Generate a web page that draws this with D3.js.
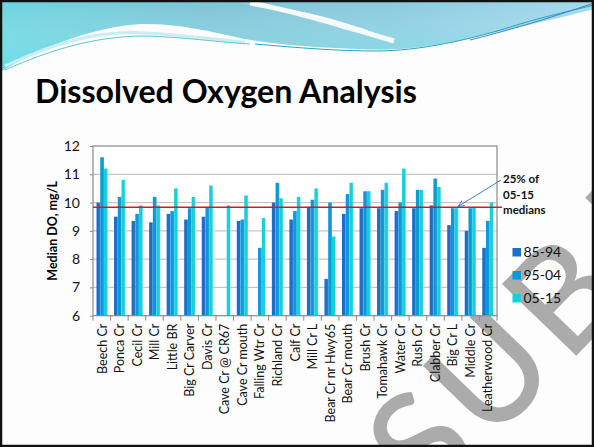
<!DOCTYPE html>
<html>
<head>
<meta charset="utf-8">
<script src="https://cdn.jsdelivr.net/npm/d3@7/dist/d3.min.js"></script>
<style>
html,body{margin:0;padding:0;background:#fff;}
svg{display:block;}
text{font-family:Lato,"Open Sans",sans-serif;}
</style>
</head>
<body>
<div id="chart"></div>
<script>
// ---- data ----
const categories = ["Beech Cr","Ponca Cr","Cecil Cr","Mill Cr","Little BR","Big Cr Carver","Davis Cr",
  "Cave Cr @ CR67","Cave Cr mouth","Falling Wtr Cr","Richland Cr","Calf Cr","Mill Cr L",
  "Bear Cr nr Hwy65","Bear Cr mouth","Brush Cr","Tomahawk Cr","Water Cr","Rush Cr",
  "Clabber Cr","Big Cr L","Middle Cr","Leatherwood Cr"];
const seriesNames = ["85-94","95-04","05-15"];
const s8594 = [10.0, 9.5, 9.35, 9.3, 9.6, 9.4, 9.5, null, 9.35, null, 10.0, 9.4, 9.85, 7.3, 9.6, 9.8, 9.8, 9.7, 9.8, 9.9, 9.2, 9.0, 8.4];
const s9504 = [11.6, 10.2, 9.6, 10.2, 9.7, 9.8, 9.85, null, 9.4, 8.4, 10.7, 9.7, 10.1, 10.0, 10.3, 10.4, 10.45, 10.0, 10.45, 10.85, 9.8, 9.8, 9.35];
const s0515 = [11.2, 10.8, 9.9, 9.9, 10.5, 10.2, 10.6, 9.9, 10.25, 9.45, 10.15, 10.2, 10.5, 8.8, 10.7, 10.4, 10.7, 11.2, 10.45, 10.55, 9.8, 9.85, 10.0];
const yTicks = [6,7,8,9,10,11,12];
const refValue = 9.83;   // 25% of 05-15 medians
const titleText = "Dissolved Oxygen Analysis";
const yTitle = "Median DO, mg/L";
const noteLines = ["25% of","05-15","medians"];
const watermarkText = "SUBJ";

const seriesValues = [s8594, s9504, s0515];
const colors = ["#1d6ec6","#0b9ad9","#18cfda"];
const lighter = ["#4a90dc","#3ab4e6","#6ee3e8"];

const W = 594, H = 447;
const svg = d3.select("#chart").append("svg").attr("width", W).attr("height", H);
const defs = svg.append("defs");

// background
svg.append("rect").attr("width", W).attr("height", H).attr("fill", "#fdfdfd");

// watermark (behind everything else)
svg.append("text").attr("transform","translate(430,506) rotate(-46)")
  .attr("font-size",142).attr("font-weight",400)
  .attr("fill","#ababab").attr("stroke","#ababab").attr("stroke-width",1.5)
  .attr("letter-spacing",8).text(watermarkText);

// header wave
const g1 = defs.append("linearGradient").attr("id","band").attr("x1","0").attr("x2","1").attr("y1","0").attr("y2","0");
[["0%","#68d3df"],["35%","#7cc3d7"],["65%","#86c9de"],["100%","#a3d7ec"]].forEach(s=>g1.append("stop").attr("offset",s[0]).attr("stop-color",s[1]));
const g2 = defs.append("linearGradient").attr("id","bandv").attr("x1","0").attr("x2","0").attr("y1","0").attr("y2","1");
[["0%","#ffffff","0"],["100%","#5fe3ea","0.55"]].forEach(s=>g2.append("stop").attr("offset",s[0]).attr("stop-color",s[1]).attr("stop-opacity",s[2]));
const bandPath = "M0,0 L594,0 L594,9 C560,18 520,27 470,38 C430,47 400,51 360,49 C310,47 275,44 245,39 C205,30 175,23 140,24 C95,27 45,45 0,72 Z";
svg.append("path").attr("d", bandPath).attr("fill","url(#band)");
svg.append("path").attr("d", bandPath).attr("fill","url(#bandv)");
// white swoosh
svg.append("path").attr("d","M240,3 C300,10 350,26 394,41 C350,22 300,8 240,3 Z").attr("fill","#fff");
svg.append("path").attr("d","M250,3 C300,12 345,27 394,41").attr("fill","none").attr("stroke","#fff").attr("stroke-width",5).attr("opacity",0.9);
// thin lines along curve
svg.append("path").attr("d","M5,66 C50,45 95,30 145,33 C185,35 215,40 245,42")
  .attr("fill","none").attr("stroke","#c8eef2").attr("stroke-width",3);
svg.append("path").attr("d","M5,70 C50,50 95,36 145,36 C185,37 215,42 250,44")
  .attr("fill","none").attr("stroke","#3fb0c8").attr("stroke-width",0.8);
svg.append("path").attr("d","M255,44 C300,48 340,51 375,51 C420,51 470,40 520,24 C550,15 575,10 594,5")
  .attr("fill","none").attr("stroke","#2aa6b8").attr("stroke-width",1);
svg.append("path").attr("d","M470,40 C510,30 550,18 594,3")
  .attr("fill","none").attr("stroke","#3c86c8").attr("stroke-width",1);

// title
const title = svg.append("text").attr("x",35).attr("y",103)
  .attr("font-weight","bold").attr("font-size",36).attr("fill","#000").text(titleText);
const tw = title.node().getComputedTextLength();
title.attr("font-size", 36*382/tw);

// scales
const plot = {left:93, right:497, top:146, bottom:315.7};
const x = d3.scaleBand().domain(categories).range([plot.left, plot.right]).paddingInner(0.36).paddingOuter(0.2);
const xs = d3.scaleBand().domain(d3.range(3)).range([0, x.bandwidth()]);
const y = d3.scaleLinear().domain([6,12]).range([plot.bottom, plot.top]);

// plot area
svg.append("rect").attr("x",plot.left).attr("y",plot.top).attr("width",plot.right-plot.left).attr("height",plot.bottom-plot.top).attr("fill","#ffffff");

// gridlines
svg.append("g").selectAll("line").data(yTicks.filter(t=>t>6 && t<12)).join("line")
  .attr("x1",plot.left).attr("x2",plot.right).attr("y1",d=>y(d)).attr("y2",d=>y(d))
  .attr("stroke","#c6c6c6").attr("stroke-width",1.2);

// bar gradients
seriesNames.forEach((s,i)=>{
  const g = defs.append("linearGradient").attr("id","bar"+i).attr("x1","0").attr("x2","1").attr("y1","0").attr("y2","0");
  g.append("stop").attr("offset","0%").attr("stop-color",colors[i]);
  g.append("stop").attr("offset","70%").attr("stop-color",colors[i]);
  g.append("stop").attr("offset","100%").attr("stop-color",lighter[i]);
});

// bars
const barData = [];
categories.forEach((c,ci)=>{
  seriesValues.forEach((arr,si)=>{
    if (arr[ci] != null) barData.push({c, si, v: arr[ci]});
  });
});
svg.append("g").selectAll("rect").data(barData).join("rect")
  .attr("x", d=>x(d.c)+xs(d.si))
  .attr("width", xs.bandwidth())
  .attr("y", d=>y(d.v))
  .attr("height", d=>y(6)-y(d.v))
  .attr("fill", d=>"url(#bar"+d.si+")");

// frame
svg.append("rect").attr("x",plot.left).attr("y",plot.top).attr("width",plot.right-plot.left).attr("height",plot.bottom-plot.top)
  .attr("fill","none").attr("stroke","#8a8a8a").attr("stroke-width",1.2);

// y axis
const yAxis = d3.axisLeft(y).tickValues(yTicks).tickSize(3).tickPadding(10).tickFormat(d3.format("d"));
const ya = svg.append("g").attr("transform",`translate(${plot.left},0)`).call(yAxis);
ya.select(".domain").remove();
ya.selectAll(".tick line").attr("stroke","#8a8a8a");
ya.selectAll("text").attr("font-size",14).attr("fill","#111").attr("font-family","Lato, sans-serif");

// x axis
const bounds = d3.range(categories.length+1).map(i=>plot.left + i*(plot.right-plot.left)/categories.length);
svg.append("g").selectAll("line").data(bounds).join("line")
  .attr("x1",d=>d).attr("x2",d=>d).attr("y1",plot.bottom).attr("y2",plot.bottom+5)
  .attr("stroke","#8a8a8a");
svg.append("g").selectAll("text").data(categories).join("text")
  .attr("transform", d=>`translate(${x(d)+x.bandwidth()/2},${plot.bottom+8}) rotate(-90)`)
  .attr("text-anchor","end").attr("dy","0.36em")
  .attr("font-size",12.5).attr("fill","#111").text(d=>d);

// y title
svg.append("text").attr("transform",`translate(57,${(plot.top+plot.bottom)/2}) rotate(-90)`)
  .attr("text-anchor","middle").attr("font-weight","bold").attr("font-size",12.5).attr("fill","#000").text(yTitle);

// reference line
svg.append("line").attr("x1",plot.left).attr("x2",502).attr("y1",y(refValue)).attr("y2",y(refValue))
  .attr("stroke","#e0141e").attr("stroke-width",1.5);

// annotation arrow
defs.append("marker").attr("id","arr").attr("viewBox","0 0 10 10").attr("refX",9).attr("refY",5)
  .attr("markerWidth",7).attr("markerHeight",7).attr("orient","auto")
  .append("path").attr("d","M0,1 L9,5 L0,9").attr("fill","none").attr("stroke","#4a7ebb").attr("stroke-width",1.4);
svg.append("line").attr("x1",501).attr("y1",180).attr("x2",458).attr("y2",206.5)
  .attr("stroke","#4a7ebb").attr("stroke-width",1).attr("marker-end","url(#arr)");
svg.append("g").selectAll("text").data(noteLines).join("text")
  .attr("x",503).attr("y",(d,i)=>183+i*15.5)
  .attr("font-weight","bold").attr("font-size",11.5).attr("fill","#111").text(d=>d);

// legend
const lg = svg.append("g");
seriesNames.forEach((s,i)=>{
  const yy = 248 + i*23;
  lg.append("rect").attr("x",512.5).attr("y",yy).attr("width",8.5).attr("height",8.5).attr("fill",colors[i]);
  lg.append("text").attr("x",523.5).attr("y",yy+9).attr("font-size",14).attr("fill","#111").text(s);
});

// slide border
svg.append("rect").attr("x",1).attr("y",1).attr("width",W-2).attr("height",H-2)
  .attr("fill","none").attr("stroke","#111").attr("stroke-width",2.5);
</script>
</body>
</html>
